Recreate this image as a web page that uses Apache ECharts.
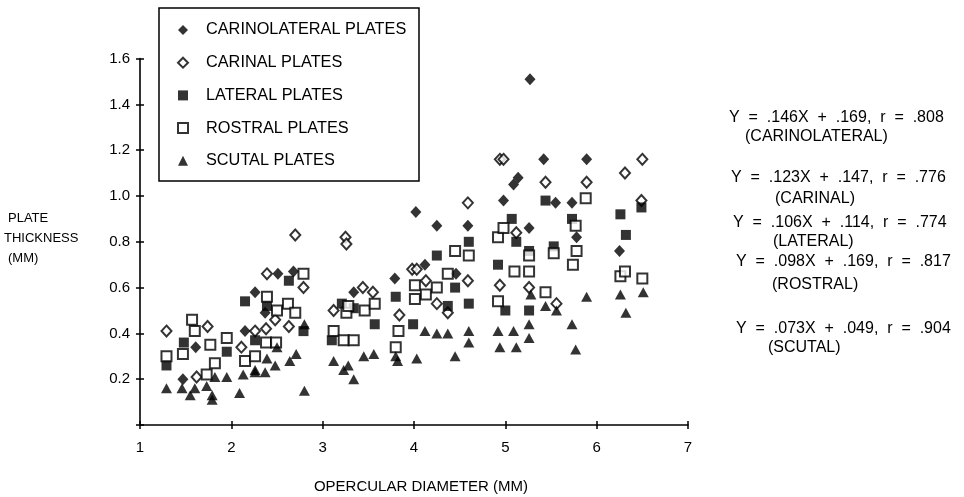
<!DOCTYPE html>
<html>
<head>
<meta charset="utf-8">
<script src="https://cdn.jsdelivr.net/npm/echarts@6/dist/echarts.min.js"></script>
<style>
html,body{margin:0;padding:0;background:#fff;}
#chart{width:964px;height:497px;}
</style>
</head>
<body>
<div id="chart"></div>
<script>
// ---- data ----
const xTickLabels = ['1','2','3','4','5','6','7'];
const yTickLabels = ['', '0.2','0.4','0.6','0.8','1.0','1.2','1.4','1.6'];
const seriesNames = ['CARINOLATERAL PLATES','CARINAL PLATES','LATERAL PLATES','ROSTRAL PLATES','SCUTAL PLATES'];

const carinolateral = [
  [1.47,0.20],[1.61,0.34],[2.15,0.41],[2.26,0.58],[2.37,0.49],[2.51,0.66],[2.68,0.67],
  [3.34,0.58],[3.79,0.64],[4.02,0.93],[4.12,0.70],[4.25,0.87],[4.46,0.66],[4.59,0.87],
  [4.98,0.98],[5.09,1.05],[5.14,1.08],[5.26,0.86],[5.27,1.51],[5.42,1.16],[5.55,0.97],
  [5.73,0.97],[5.78,0.82],[5.89,1.16],[6.25,0.76]
];
const carinal = [
  [1.29,0.41],[1.62,0.21],[1.74,0.43],[2.11,0.34],[2.26,0.41],[2.38,0.42],[2.48,0.46],
  [2.39,0.66],[2.63,0.43],[2.70,0.83],[2.79,0.60],
  [3.12,0.50],[3.25,0.82],[3.26,0.79],[3.44,0.60],[3.55,0.58],[3.84,0.48],[3.98,0.68],
  [4.03,0.68],[4.13,0.63],[4.25,0.53],[4.37,0.49],[4.59,0.97],[4.59,0.63],
  [4.94,1.16],[4.98,1.16],[4.94,0.61],[5.12,0.84],[5.26,0.60],[5.44,1.06],[5.56,0.53],
  [5.89,1.06],[6.31,1.10],[6.50,1.16],[6.49,0.98]
];
const lateral = [
  [1.29,0.26],[1.48,0.36],[1.95,0.32],[2.15,0.54],[2.26,0.37],[2.39,0.52],[2.63,0.63],[2.79,0.41],
  [3.10,0.37],[3.21,0.53],[3.34,0.51],[3.57,0.44],[3.80,0.56],[3.99,0.44],[4.25,0.74],[4.37,0.52],
  [4.45,0.60],[4.60,0.80],[4.60,0.53],
  [4.92,0.70],[5.00,0.50],[5.07,0.90],[5.12,0.80],[5.26,0.76],[5.26,0.50],[5.44,0.98],[5.53,0.78],
  [5.73,0.90],[6.26,0.92],[6.32,0.83],[6.49,0.95]
];
const rostral = [
  [1.29,0.30],[1.47,0.31],[1.57,0.46],[1.60,0.41],[1.73,0.22],[1.77,0.35],[1.82,0.27],[1.95,0.38],
  [2.15,0.28],[2.26,0.30],[2.38,0.36],[2.39,0.56],[2.49,0.36],[2.50,0.50],[2.62,0.53],[2.70,0.49],[2.79,0.66],
  [3.12,0.41],[3.23,0.37],[3.26,0.49],[3.28,0.52],[3.34,0.37],[3.46,0.50],[3.57,0.53],[3.80,0.34],
  [3.83,0.41],[4.01,0.55],[4.01,0.61],[4.13,0.57],[4.25,0.60],[4.37,0.66],[4.45,0.76],[4.60,0.74],
  [4.92,0.54],[4.92,0.82],[4.98,0.86],[5.10,0.67],[5.26,0.67],[5.26,0.74],[5.44,0.58],[5.53,0.75],
  [5.74,0.70],[5.77,0.87],[5.78,0.76],[5.88,0.99],[6.26,0.65],[6.31,0.67],[6.50,0.64]
];
const scutal = [
  [1.29,0.16],[1.46,0.16],[1.55,0.13],[1.60,0.16],[1.73,0.17],[1.79,0.13],[1.79,0.11],[1.82,0.21],
  [1.95,0.21],[2.09,0.14],[2.13,0.22],[2.26,0.23],[2.26,0.24],[2.37,0.23],[2.39,0.29],[2.48,0.26],
  [2.50,0.34],[2.64,0.28],[2.71,0.31],[2.80,0.44],[2.80,0.15],
  [3.12,0.28],[3.23,0.24],[3.28,0.26],[3.34,0.20],[3.45,0.30],[3.56,0.31],[3.80,0.30],[3.82,0.28],
  [4.03,0.29],[4.12,0.41],[4.25,0.40],[4.37,0.40],[4.45,0.30],[4.60,0.41],[4.60,0.36],
  [4.92,0.41],[4.94,0.34],[5.09,0.41],[5.12,0.34],[5.26,0.44],[5.26,0.38],[5.28,0.57],[5.44,0.52],
  [5.56,0.50],[5.73,0.44],[5.77,0.33],[5.89,0.56],[6.26,0.57],[6.32,0.49],[6.51,0.58]
];
const xTitle = 'OPERCULAR DIAMETER (MM)';
const yTitleLines = ['PLATE','THICKNESS','(MM)'];
const equations = [
  ['Y  =  .146X  +  .169,  r  =  .808', '(CARINOLATERAL)'],
  ['Y  =  .123X  +  .147,  r  =  .776', '(CARINAL)'],
  ['Y  =  .106X  +  .114,  r  =  .774', '(LATERAL)'],
  ['Y  =  .098X  +  .169,  r  =  .817', '(ROSTRAL)'],
  ['Y  =  .073X  +  .049,  r  =  .904', '(SCUTAL)']
];

// ---- chart ----
const FONT = '"Liberation Sans", Arial, Helvetica, sans-serif';
const chart = echarts.init(document.getElementById('chart'), null, {renderer:'canvas'});

const axisLine = {show:true, onZero:false, lineStyle:{color:'#000', width:1.6}};
const tickStyle = {color:'#000', width:1.5};

function mkSeries(name, data, symbol, size, empty){
  return {
    name, type:'scatter', data, symbol, symbolSize:size,
    xAxisIndex:0, yAxisIndex:0,
    itemStyle: empty ? {color:'#000', borderColor:'#000', borderWidth:2} : {color:'#000', borderWidth:0},
    emphasis:{disabled:true}
  };
}

// text layout (positions only)
const eqPos = [
  {ex:729, ey:118, lx:745, ly:137},
  {ex:731, ey:178, lx:775, ly:199},
  {ex:733, ey:223, lx:773, ly:242},
  {ex:736, ey:262, lx:772, ly:285},
  {ex:736, ey:329, lx:768, ly:348}
];
const graphics = [
  {type:'rect', shape:{x:159, y:8, width:260, height:173}, style:{fill:'none', stroke:'#000', lineWidth:1.5}, silent:true},
  {type:'text', x:421, y:487, style:{text:xTitle, align:'center', verticalAlign:'middle', font:'15px '+FONT, fill:'#000'}}
];
const yTitleY = [218, 238, 258];
const yTitleX = [8, 4, 8];
yTitleLines.forEach((t,i)=>{
  graphics.push({type:'text', x:yTitleX[i], y:yTitleY[i], style:{text:t, align:'left', verticalAlign:'middle', font:'13px '+FONT, fill:'#000'}});
});
equations.forEach((e,i)=>{
  const p = eqPos[i];
  graphics.push({type:'text', x:p.ex, y:p.ey, style:{text:e[0], align:'left', verticalAlign:'middle', font:'16px '+FONT, fill:'#000'}});
  graphics.push({type:'text', x:p.lx, y:p.ly, style:{text:e[1], align:'left', verticalAlign:'middle', font:'16px '+FONT, fill:'#000'}});
});

const option = {
  animation:false,
  backgroundColor:'#fff',
  grid:{left:140, right:276, top:58.6, bottom:72, containLabel:false},
  legend:{
    orient:'vertical', left:177, top:21.5, padding:0,
    itemWidth:10, itemHeight:10, itemGap:15.7,
    selectedMode:false,
    textStyle:{fontSize:16.3, fontFamily:FONT, color:'#000', lineHeight:17, padding:[0,0,0,13]},
    data: seriesNames
  },
  xAxis:[
    {type:'value', min:1, max:7, interval:1, axisLine,
     axisTick:{show:true, length:4, lineStyle:tickStyle},
     axisLabel:{margin:15, color:'#000', fontSize:15, fontFamily:FONT, formatter:(v)=>xTickLabels[Math.round(v-1)]},
     splitLine:{show:false}},
    {type:'value', min:1, max:7, interval:1, position:'bottom', axisLine:{show:false},
     axisTick:{show:true, inside:true, length:4, lineStyle:tickStyle},
     axisLabel:{show:false}, splitLine:{show:false}}
  ],
  yAxis:[
    {type:'value', min:0, max:1.6, interval:0.2, axisLine,
     axisTick:{show:true, length:4, lineStyle:tickStyle},
     axisLabel:{margin:10, color:'#000', fontSize:15, fontFamily:FONT, formatter:(v)=>yTickLabels[Math.round(v/0.2)]},
     splitLine:{show:false}},
    {type:'value', min:0, max:1.6, interval:0.2, position:'left', axisLine:{show:false},
     axisTick:{show:true, inside:true, length:4, lineStyle:tickStyle},
     axisLabel:{show:false}, splitLine:{show:false}}
  ],
  series:[
    mkSeries(seriesNames[0], carinolateral, 'diamond', [11,12], false),
    mkSeries(seriesNames[1], carinal, 'emptyDiamond', [10,11], true),
    mkSeries(seriesNames[2], lateral, 'rect', [10,10], false),
    mkSeries(seriesNames[3], rostral, 'emptyRect', [10,10], true),
    mkSeries(seriesNames[4], scutal, 'triangle', [11,10], false)
  ],
  graphic: graphics
};
chart.setOption(option);
</script>
</body>
</html>
